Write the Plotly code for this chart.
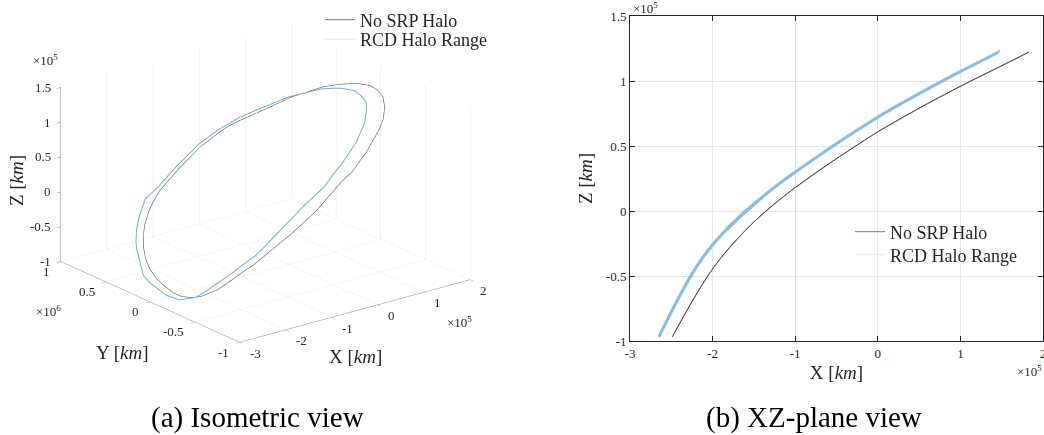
import plotly.graph_objects as go

# Halo orbit without SRP (X, Z in 1e5 km, Y in 1e6 km), traced once around the loop
x_nosrp = [-2.486, -2.483, -2.45, -2.41, -2.37, -2.28, -2.16, -2.00, -1.85, -1.54, -1.22, -0.75,
           -0.10, 0.16, 0.60, 0.86, 1.12, 1.34, 1.56, 1.72, 1.80, 1.826,
           1.75, 1.59, 1.41, 0.98, 0.39, 0.17, 0.00, -0.18, -0.57, -1.04, -1.46, -1.65, -1.80,
           -1.98, -2.08, -2.21, -2.29, -2.37, -2.42, -2.46, -2.486]
y_nosrp = [0.00, -0.09, -0.19, -0.26, -0.30, -0.384, -0.45, -0.522, -0.58, -0.64, -0.68, -0.69,
           -0.64, -0.63, -0.56, -0.50, -0.44, -0.37, -0.27, -0.17, -0.07, 0.03,
           0.15, 0.26, 0.35, 0.47, 0.58, 0.63, 0.66, 0.68, 0.70, 0.69, 0.68, 0.66, 0.635,
           0.59, 0.55, 0.48, 0.42, 0.33, 0.24, 0.125, 0.00]
z_nosrp = [-0.967, -0.964, -0.925, -0.878, -0.832, -0.731, -0.602, -0.445, -0.324, -0.109, 0.072, 0.293,
           0.569, 0.668, 0.826, 0.913, 0.998, 1.067, 1.136, 1.187, 1.213, 1.221,
           1.197, 1.146, 1.089, 0.953, 0.752, 0.672, 0.61, 0.536, 0.374, 0.161, -0.061, -0.180, -0.283,
           -0.429, -0.521, -0.654, -0.742, -0.832, -0.889, -0.936, -0.967]

# RCD halo range orbit (same units)
x_rcd = [-2.65, -2.64, -2.56, -2.47, -2.19, -2.02, -1.88, -1.30, -0.83, -0.43, -0.18, 0.11, 0.56,
         0.73, 0.95, 1.25, 1.35, 1.425, 1.46,
         1.42, 1.38, 1.23, 0.82, 0.35, 0.08, -0.26, -0.64, -1.17, -1.55, -1.81, -2.06, -2.19,
         -2.32, -2.38, -2.57, -2.61, -2.65]
y_rcd = [0.00, -0.14, -0.28, -0.35, -0.51, -0.57, -0.61, -0.63, -0.62, -0.62, -0.585, -0.55, -0.47,
         -0.42, -0.36, -0.23, -0.17, -0.076, 0.01,
         0.09, 0.145, 0.26, 0.42, 0.53, 0.59, 0.64, 0.67, 0.66, 0.65, 0.67, 0.61, 0.57,
         0.51, 0.47, 0.30, 0.20, 0.00]
z_rcd = [-0.967, -0.954, -0.852, -0.738, -0.424, -0.275, -0.175, 0.158, 0.374, 0.548, 0.650, 0.764, 0.924,
         0.982, 1.057, 1.154, 1.186, 1.210, 1.221,
         1.208, 1.196, 1.148, 1.013, 0.850, 0.753, 0.617, 0.457, 0.221, 0.028, -0.126, -0.308, -0.424,
         -0.560, -0.630, -0.865, -0.916, -0.967]

x_ticks = [-3, -2, -1, 0, 1, 2]
y_ticks = [-1, -0.5, 0, 0.5, 1]
z_ticks = [-1, -0.5, 0, 0.5, 1, 1.5]

SERIF = "Liberation Serif"
INK = "#262626"
GRID = "#e6e6e6"
AXIS3D = "#8a8a8a"
BLACK_LINE = "rgb(90,90,90)"
BLUE_2D = "#86bee3"
BLUE_3D = "#6aaedd"
BLUE_LEGEND = "#d9ebf7"
LEGEND_GRAY = "#777777"


def fmt(v):
    return "%g" % v


fig = go.Figure()

# ---- (a) isometric view ----
fig.add_trace(go.Scatter3d(x=x_nosrp, y=y_nosrp, z=z_nosrp, mode="lines",
                           line=dict(color=BLACK_LINE, width=1.2),
                           name="No SRP Halo", showlegend=False))
fig.add_trace(go.Scatter3d(x=x_rcd, y=y_rcd, z=z_rcd, mode="lines",
                           line=dict(color=BLUE_3D, width=2),
                           name="RCD Halo Range", showlegend=False))

# ---- (b) XZ-plane view ----
fig.add_trace(go.Scatter(x=x_nosrp, y=z_nosrp, mode="lines", xaxis="x", yaxis="y",
                         line=dict(color=BLACK_LINE, width=1, shape="spline"),
                         name="No SRP Halo", showlegend=False))
fig.add_trace(go.Scatter(x=x_rcd, y=z_rcd, mode="lines", xaxis="x", yaxis="y",
                         line=dict(color=BLUE_2D, width=3, shape="spline"),
                         name="RCD Halo Range", showlegend=False))

# legend rows: one legend per row so each row sits where it belongs
legend_rows = [("legend", "No SRP Halo", LEGEND_GRAY, 320, 20),
               ("legend2", "RCD Halo Range", BLUE_LEGEND, 320, 39.5),
               ("legend3", "No SRP Halo", LEGEND_GRAY, 850, 232),
               ("legend4", "RCD Halo Range", BLUE_LEGEND, 850, 255)]
legend_layout = {}
for key, label, color, lx, ly in legend_rows:
    fig.add_trace(go.Scatter(x=[None], y=[None], mode="lines", line=dict(color=color, width=1),
                             name=label, legend=key, showlegend=True))
    legend_layout[key] = dict(x=lx / 1044, y=1 - ly / 435, xanchor="left", yanchor="middle",
                              bgcolor="rgba(255,255,255,0)",
                              font=dict(family=SERIF, size=18, color=INK),
                              itemwidth=30, tracegroupgap=0)

axis3d = dict(showbackground=False, gridcolor=GRID, gridwidth=1, showline=True,
              linecolor=AXIS3D, linewidth=1, ticks="outside", tickcolor=AXIS3D,
              ticklen=5, zeroline=False, showspikes=False, showticklabels=False,
              title=dict(text=""))

# text placed on the 3D axes
tick_font = dict(family=SERIF, size=13, color=INK)
title_font = dict(family=SERIF, size=19, color=INK)
scene_ann = []
for zv in z_ticks:
    scene_ann.append(dict(x=-3, y=1, z=zv, text=fmt(zv), xanchor="right", yanchor="middle",
                          xshift=-8, yshift=0, font=tick_font))
for yv in y_ticks:
    scene_ann.append(dict(x=-3, y=yv, z=-1, text=fmt(yv), xanchor="right", yanchor="middle",
                          xshift=-9, yshift=-10, font=tick_font))
for xv in x_ticks:
    scene_ann.append(dict(x=xv, y=-1, z=-1, text=fmt(xv), xanchor="left", yanchor="middle",
                          xshift=8, yshift=-11, font=tick_font))
scene_ann += [
    dict(x=-3, y=0, z=-1, text="Y [<i>km</i>]", xanchor="center", yanchor="middle",
         xshift=-28, yshift=-51, font=title_font),
    dict(x=-0.5, y=-1, z=-1, text="X [<i>km</i>]", xanchor="center", yanchor="middle",
         xshift=1, yshift=-46, font=title_font),
    dict(x=-3, y=1, z=0.25, text="Z [<i>km</i>]", xanchor="center", yanchor="middle",
         textangle=-90, xshift=-45, yshift=-6, font=title_font),
    dict(x=-3, y=1, z=1.5, text="×10<sup>5</sup>", xanchor="center", yanchor="middle",
         xshift=-15, yshift=27, font=dict(family=SERIF, size=13, color=INK)),
    dict(x=-3, y=1, z=-1, text="×10<sup>6</sup>", xanchor="center", yanchor="middle",
         xshift=-12, yshift=-50, font=dict(family=SERIF, size=13, color=INK)),
    dict(x=2, y=-1, z=-1, text="×10<sup>5</sup>", xanchor="center", yanchor="middle",
         xshift=-11, yshift=-43, font=dict(family=SERIF, size=13, color=INK)),
]
for a in scene_ann:
    a["showarrow"] = False

fig.update_layout(
    width=1044, height=435, margin=dict(l=0, r=0, t=0, b=0),
    paper_bgcolor="white", plot_bgcolor="white", template="none",
    font=dict(family=SERIF, color=INK),
    scene=dict(
        domain=dict(x=[0.0, 0.5086], y=[0.157, 1.0]),
        aspectmode="manual", aspectratio=dict(x=1.59, y=1.59, z=1.014),
        camera=dict(eye=dict(x=-0.574 * 1.6, y=-0.740 * 1.6, z=0.350 * 1.6),
                    up=dict(x=0, y=0, z=1), center=dict(x=0, y=0, z=0),
                    projection=dict(type="orthographic")),
        xaxis=dict(axis3d, range=[-3, 2], tickvals=x_ticks),
        yaxis=dict(axis3d, range=[-1, 1], tickvals=y_ticks),
        zaxis=dict(axis3d, range=[-1, 1.5], tickvals=z_ticks, showgrid=False),
        annotations=scene_ann,
    ),
    xaxis=dict(domain=[630 / 1044, 1043 / 1044], range=[-3, 2], tickvals=x_ticks,
               ticktext=[fmt(v) for v in x_ticks], showgrid=True, gridcolor=GRID,
               showline=True, linecolor=INK, linewidth=1, mirror="ticks", ticks="inside",
               ticklen=5, tickcolor=INK, zeroline=False, tickfont=tick_font,
               ticklabeloverflow="allow",
               title=dict(text="X [<i>km</i>]", font=title_font, standoff=6), anchor="y"),
    yaxis=dict(domain=[94 / 435, 419 / 435], range=[-1, 1.5], tickvals=z_ticks,
               ticktext=[fmt(v) for v in z_ticks], showgrid=True, gridcolor=GRID,
               showline=True, linecolor=INK, linewidth=1, mirror="ticks", ticks="inside",
               ticklen=5, tickcolor=INK, zeroline=False, tickfont=tick_font,
               title=dict(text="Z [<i>km</i>]", font=title_font, standoff=8), anchor="x"),
    showlegend=True,
    **legend_layout,
)

annotations = [
    dict(text="×10<sup>5</sup>", x=631 / 1044, y=1 - 8 / 435, xanchor="left", yanchor="middle"),
    dict(text="×10<sup>5</sup>", x=1044 / 1044, y=1 - 371 / 435, xanchor="right", yanchor="middle"),
]
for a in annotations:
    a.update(xref="paper", yref="paper", showarrow=False,
             font=dict(family=SERIF, size=13, color=INK))
annotations += [
    dict(text="(a) Isometric view", x=257 / 1044, y=1 - 417 / 435, xref="paper", yref="paper",
         xanchor="center", yanchor="middle", showarrow=False,
         font=dict(family=SERIF, size=29, color="black")),
    dict(text="(b) XZ-plane view", x=814 / 1044, y=1 - 417 / 435, xref="paper", yref="paper",
         xanchor="center", yanchor="middle", showarrow=False,
         font=dict(family=SERIF, size=29, color="black")),
]
fig.update_layout(annotations=annotations)

fig.write_html("out.html", config=dict(displayModeBar=False))
